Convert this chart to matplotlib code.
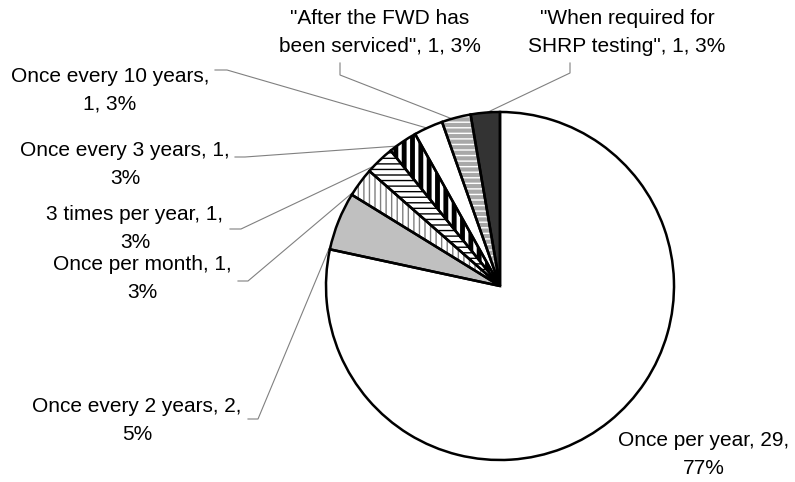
import numpy as np
import matplotlib
matplotlib.use("Agg")
import matplotlib.pyplot as plt
from matplotlib.patches import Wedge

plt.rcParams['font.family'] = ['Liberation Sans', 'DejaVu Sans']

categories = ["Once per year", "Once every 2 years", "Once per month",
              "3 times per year", "Once every 3 years", "Once every 10 years",
              "\"After the FWD has been serviced\"", "\"When required for SHRP testing\""]
counts = [29, 2, 1, 1, 1, 1, 1, 1]
percents = [77, 5, 3, 3, 3, 3, 3, 3]
label_texts = ["Once per year, 29,\n77%",
               "Once every 2 years, 2,\n5%",
               "Once per month, 1,\n3%",
               "3 times per year, 1,\n3%",
               "Once every 3 years, 1,\n3%",
               "Once every 10 years,\n1, 3%",
               "\"After the FWD has\nbeen serviced\", 1, 3%",
               "\"When required for\nSHRP testing\", 1, 3%"]

# fill / hatch styles per slice
face_colors = ['white', '#c0c0c0', 'white', 'white', 'white', 'white', 'white', '#333333']
hatches = [None, None, '|||', '---', '||', None, '---', None]
hatch_colors = [None, None, '#808080', 'black', 'black', None, '#a8a8a8', None]
hatch_widths = [0, 0, 1.0, 1.0, 3.5, 0, 3.0, 0]

W, H = 795, 482
CX, CY, R = 500, 286, 174


def px(x, y):
    """pixel position (from top-left) -> data units of the pie axes"""
    return (x - CX) / R, (CY - y) / R


# label anchor (pixels) and leader stub start/end (pixels)
label_pos = [(704, 455), (137, 421), (142, 279), (135, 229),
             (125, 165), (110, 90), (380, 32), (627, 32)]
stubs = [None,
         [(248, 419), (258, 419)],
         [(238, 281), (248, 281)],
         [(230, 229), (241, 229)],
         [(235, 157), (245, 157)],
         [(215, 70), (227, 70)],
         [(340, 63), (340, 75)],
         [(570, 63), (570, 73)]]
# where along the wedge arc the leader touches (0 = low angle side)
leader_frac = [0.5, 0.89, 0.87, 0.77, 0.75, 0.55, 0.65, 0.44]

fig = plt.figure(figsize=(W / 100, H / 100), dpi=100)
ax = fig.add_axes([0, 0, 1, 1])

wedges, _ = ax.pie(counts, startangle=90, counterclock=False, radius=1,
                   colors=face_colors, wedgeprops=dict(linewidth=0))

for i, w in enumerate(wedges):
    if hatches[i]:
        hw = Wedge((0, 0), 1, w.theta1, w.theta2, facecolor='none',
                   edgecolor=hatch_colors[i], linewidth=0, hatch=hatches[i], zorder=2)
        if hasattr(hw, 'set_hatch_linewidth'):
            hw.set_hatch_linewidth(hatch_widths[i])
        else:
            hw._hatch_linewidth = hatch_widths[i]
        ax.add_patch(hw)
    ax.add_patch(Wedge((0, 0), 1, w.theta1, w.theta2, fill=False,
                       edgecolor='black', linewidth=1.8, zorder=3))

for i, w in enumerate(wedges):
    tx, ty = px(*label_pos[i])
    ax.text(tx, ty, label_texts[i], ha='center', va='center', multialignment='center',
            fontsize=15, linespacing=1.6, zorder=4)
    if stubs[i]:
        ang = np.deg2rad(w.theta1 + leader_frac[i] * (w.theta2 - w.theta1))
        pts = [px(*p) for p in stubs[i]] + [(np.cos(ang), np.sin(ang))]
        xs, ys = zip(*pts)
        ax.plot(xs, ys, color='#808080', linewidth=0.8, zorder=1)

ax.set_xlim(-CX / R, (W - CX) / R)
ax.set_ylim((CY - H) / R, CY / R)
ax.set_aspect('auto')
ax.axis('off')

fig.savefig("out.png", dpi=100, facecolor='white')
